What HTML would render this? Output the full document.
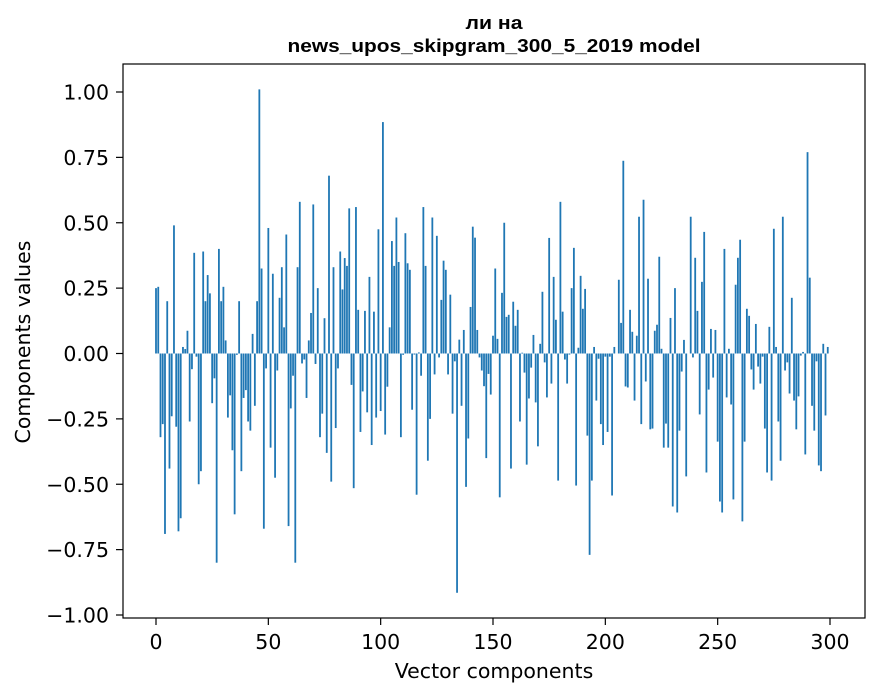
<!DOCTYPE html>
<html><head><meta charset="utf-8"><style>
html,body{margin:0;padding:0;background:#fff;}
svg{display:block;font-family:"DejaVu Sans","Liberation Sans",sans-serif;}
</style></head><body>
<svg id="chart" width="880" height="696" viewBox="0 0 880 696" xmlns="http://www.w3.org/2000/svg">
<rect width="880" height="696" fill="#fff"/>
<text x="494" y="29" text-anchor="middle" font-size="18.5" font-weight="bold" font-family="Liberation Sans, Arial, sans-serif" textLength="57" lengthAdjust="spacingAndGlyphs">ли на</text>
<text x="494" y="52" text-anchor="middle" font-size="18.5" font-weight="bold" font-family="Liberation Sans, Arial, sans-serif" textLength="413" lengthAdjust="spacingAndGlyphs">news_upos_skipgram_300_5_2019 model</text>
<g id="bars"></g>
<g id="yticks"></g>
<g id="xticks"></g>
<rect x="123" y="64" width="742" height="554" fill="none" stroke="#000" stroke-width="1.2"/>
<text x="494" y="678" text-anchor="middle" font-size="20.5">Vector components</text>
<text transform="translate(30,342) rotate(-90)" text-anchor="middle" font-size="20.5">Components values</text>
</svg>
<script>
const values = [0.25,0.255,-0.32,-0.27,-0.69,0.20,-0.44,-0.24,0.49,-0.28,-0.68,-0.63,0.025,0.017,0.087,-0.26,-0.06,0.385,-0.012,-0.5,-0.45,0.39,0.2,0.30,0.23,-0.19,-0.095,-0.80,0.40,0.20,0.255,0.05,-0.245,-0.16,-0.37,-0.615,-0.005,0.20,-0.45,-0.17,-0.14,-0.26,-0.295,0.075,-0.2,0.2,1.01,0.325,-0.67,-0.057,
0.48,-0.36,0.305,-0.475,-0.065,0.213,0.33,0.10,0.455,-0.66,-0.21,-0.085,-0.80,0.33,0.58,-0.038,-0.023,-0.17,0.05,0.155,0.57,-0.04,0.25,-0.32,-0.23,0.135,-0.38,0.68,-0.49,0.33,-0.285,-0.057,0.39,0.245,0.365,0.335,0.555,-0.12,-0.515,0.56,0.167,-0.30,-0.145,0.163,-0.225,0.293,-0.35,0.16,-0.245,0.475,
-0.22,0.885,-0.31,-0.127,0.10,0.43,0.335,0.52,0.35,-0.32,-0.005,0.46,0.345,0.32,-0.215,-0.004,-0.54,0.004,-0.085,0.56,0.335,-0.41,-0.25,0.52,-0.08,0.45,-0.015,0.205,0.355,0.32,-0.08,0.225,-0.23,-0.03,-0.915,0.053,-0.2,0.09,-0.51,-0.325,0.178,0.485,0.443,0.09,-0.015,-0.065,-0.125,-0.4,-0.078,-0.157,
0.068,0.325,0.056,-0.55,0.232,0.50,0.14,0.148,-0.44,0.198,0.106,0.167,-0.26,0.003,-0.073,-0.425,-0.172,-0.054,0.071,-0.187,-0.355,0.037,0.236,-0.034,-0.168,0.442,-0.115,0.293,0.129,-0.486,0.58,0.16,-0.023,-0.115,-0.004,0.25,0.404,-0.505,0.022,0.297,0.171,0.247,-0.314,-0.77,-0.486,0.025,-0.18,-0.02,-0.27,
-0.35,-0.012,-0.30,-0.012,-0.543,0.025,0,0.282,0.117,0.737,-0.126,-0.13,0.167,0.083,-0.18,0.068,0.523,-0.27,0.588,-0.107,0.286,-0.29,-0.287,0.087,0.11,0.37,0.018,-0.36,-0.268,-0.36,0.136,-0.585,0.25,-0.608,-0.295,-0.069,0.052,-0.47,0,0.523,-0.015,0.366,0.163,-0.233,0.274,0.465,-0.455,-0.138,0.094,-0.092,
0.09,-0.337,-0.566,-0.608,0.40,-0.168,0.018,-0.195,-0.558,0.263,0.366,0.435,-0.642,-0.337,0.171,0.144,-0.061,-0.138,0.113,-0.05,-0.115,-0.012,-0.287,-0.455,0.102,-0.486,0.477,0.025,-0.26,-0.41,0.523,-0.065,-0.034,-0.153,0.213,-0.18,-0.29,-0.164,-0.008,0.006,-0.386,0.77,0.29,-0.2,-0.295,-0.03,-0.428,-0.45,0.037,-0.237,0.025];
const yTickValues = [1.00,0.75,0.50,0.25,0.00,-0.25,-0.50,-0.75,-1.00];
const yTickLabels = ["1.00","0.75","0.50","0.25","0.00","\u22120.25","\u22120.50","\u22120.75","\u22121.00"];
const xTickValues = [0,50,100,150,200,250,300];
const xTickLabels = ["0","50","100","150","200","250","300"];

const NS = "http://www.w3.org/2000/svg";
function xScale(i){ return 156 + i * (674/300); }
function yScale(v){ return 353.5 - v * 261.5; }
const bw = 0.8 * 674/300;
const gb = document.getElementById('bars');
values.forEach((v,i)=>{
  const r = document.createElementNS(NS,'rect');
  const y0 = yScale(0), y1 = yScale(v);
  r.setAttribute('x', xScale(i) - bw/2);
  r.setAttribute('y', Math.min(y0,y1));
  r.setAttribute('width', bw);
  r.setAttribute('height', Math.max(Math.abs(y1-y0),0.01));
  r.setAttribute('fill', '#1f77b4');
  
  
  gb.appendChild(r);
});
const gy = document.getElementById('yticks');
yTickValues.forEach((v,k)=>{
  const y = yScale(v);
  const l = document.createElementNS(NS,'line');
  l.setAttribute('x1',116); l.setAttribute('x2',123);
  l.setAttribute('y1',y); l.setAttribute('y2',y);
  l.setAttribute('stroke','#000'); l.setAttribute('stroke-width','1.2');
  
  
  gy.appendChild(l);
  const t = document.createElementNS(NS,'text');
  t.setAttribute('x',109); t.setAttribute('y',y+7.5);
  t.setAttribute('text-anchor','end'); t.setAttribute('font-size','20.5');
  t.textContent = yTickLabels[k];
  
  
  gy.appendChild(t);
});
const gx = document.getElementById('xticks');
xTickValues.forEach((v,k)=>{
  const x = xScale(v);
  const l = document.createElementNS(NS,'line');
  l.setAttribute('x1',x); l.setAttribute('x2',x);
  l.setAttribute('y1',618); l.setAttribute('y2',625);
  l.setAttribute('stroke','#000'); l.setAttribute('stroke-width','1.2');
  
  
  gx.appendChild(l);
  const t = document.createElementNS(NS,'text');
  t.setAttribute('x',x); t.setAttribute('y',649);
  t.setAttribute('text-anchor','middle'); t.setAttribute('font-size','20.5');
  t.textContent = xTickLabels[k];
  
  
  gx.appendChild(t);
});
</script>
</body></html>
